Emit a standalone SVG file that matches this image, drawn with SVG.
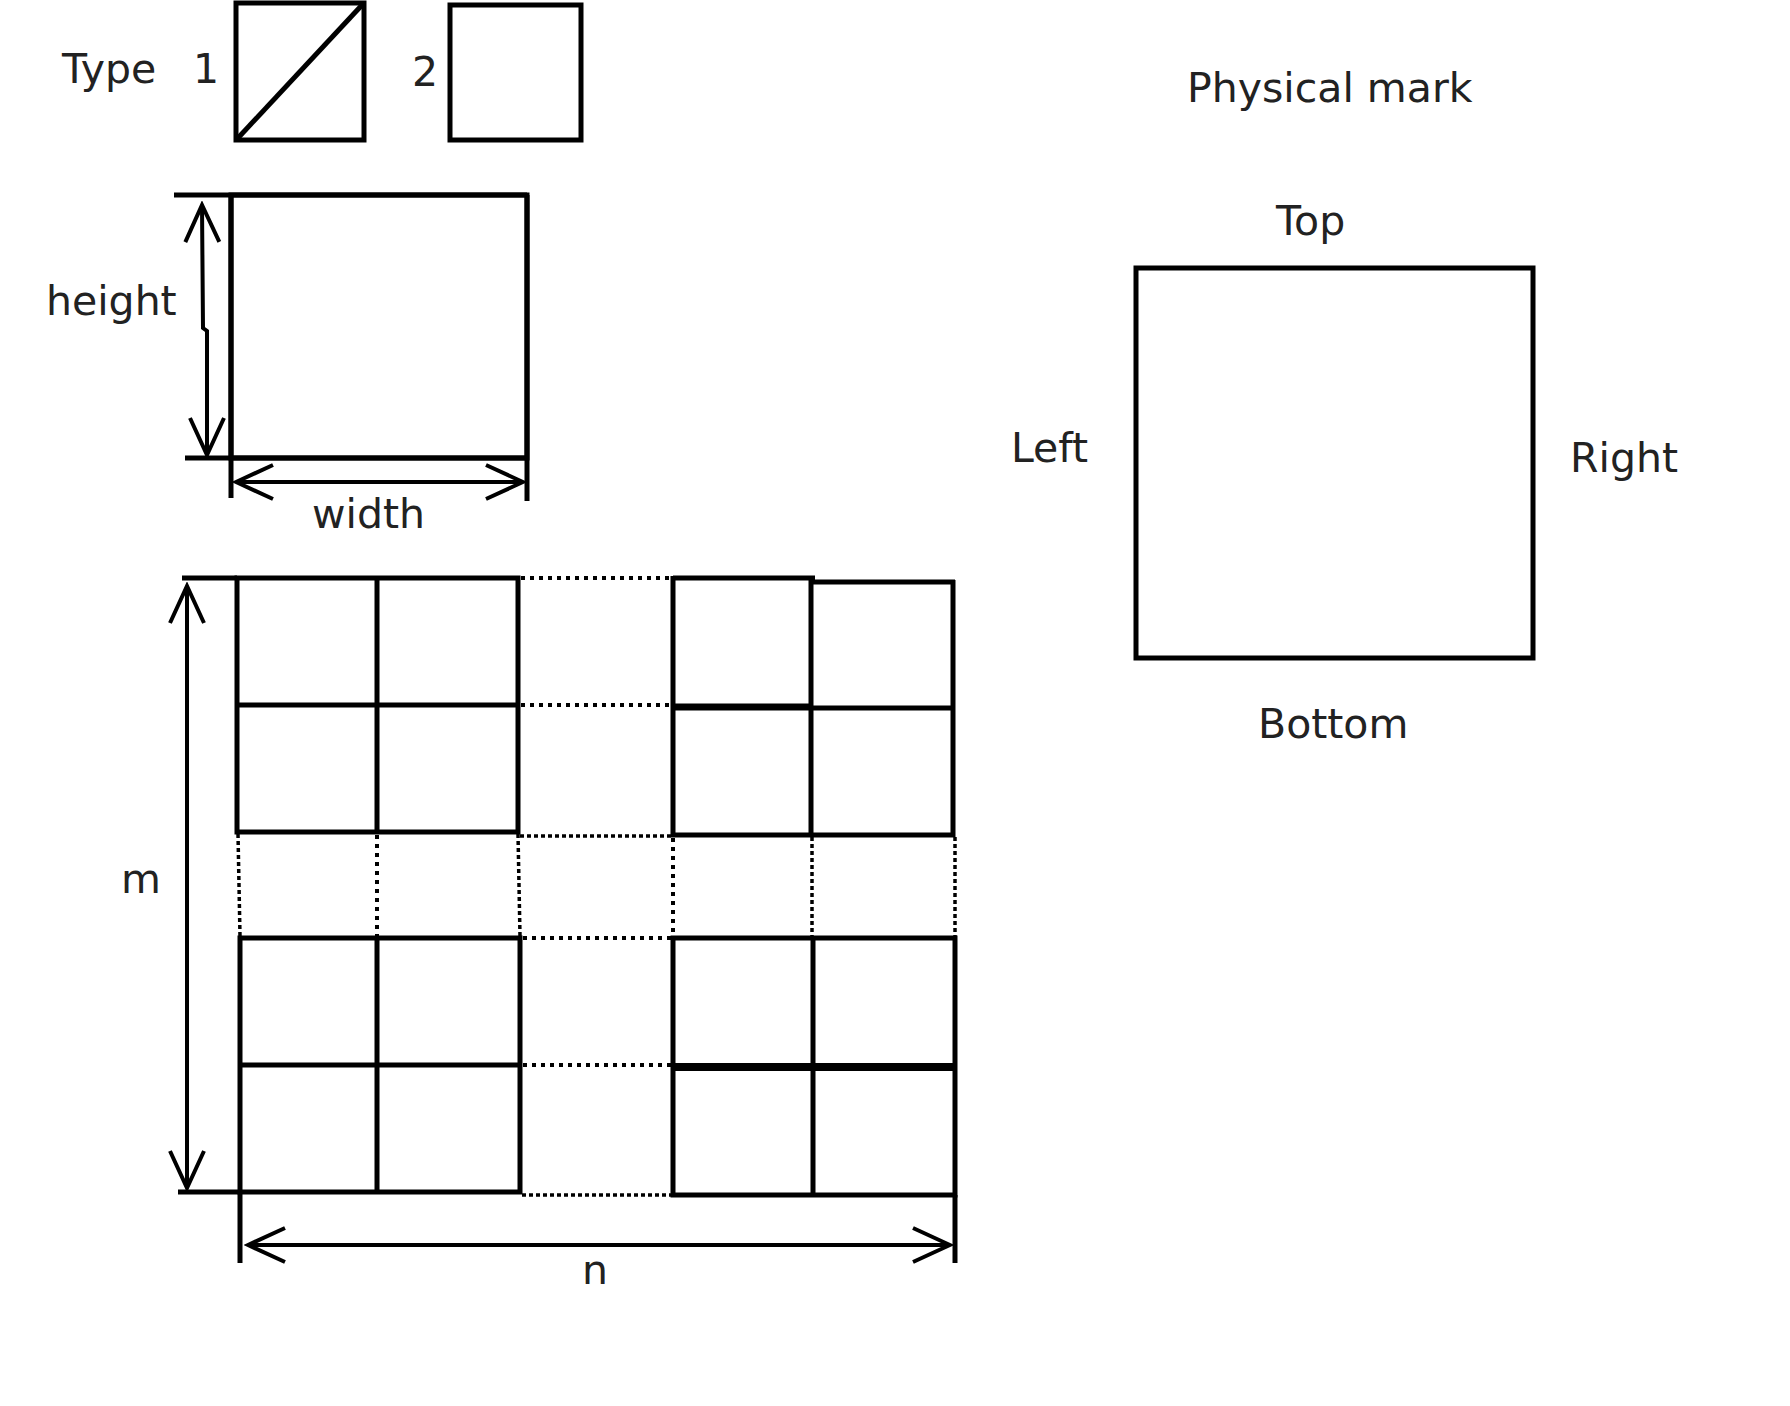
<svg xmlns="http://www.w3.org/2000/svg" width="1790" height="1406" viewBox="0 0 1790 1406">
<style>
.t{font-family:"DejaVu Sans","Liberation Sans",sans-serif;font-size:41px;fill:#222}
.s{fill:none;stroke:#000;stroke-width:5}
.dot{fill:none;stroke:#000;stroke-width:4;stroke-dasharray:4 5}
.dash{fill:none;stroke:#000;stroke-width:3.5;stroke-dasharray:4 3}
.arr{fill:none;stroke:#000;stroke-width:4;marker-start:url(#ah);marker-end:url(#ah)}
</style>
<defs>
<marker id="ah" markerUnits="userSpaceOnUse" viewBox="-42 -22 46 44" refX="0" refY="0" markerWidth="46" markerHeight="44" orient="auto-start-reverse">
<path d="M-37,-17 L0,0 L-37,17" fill="none" stroke="#000" stroke-width="4"/>
</marker>
</defs>
<rect width="1790" height="1406" fill="#fff"/>

<g id="type-legend">
<text class="t" x="62" y="83">Type</text>
<text class="t" x="193" y="83">1</text>
<text class="t" x="412" y="86">2</text>
</g>
<g id="type1">
<rect class="s" x="236" y="3" width="128" height="137"/>
<line class="s" x1="238" y1="138" x2="362" y2="5"/>
</g>
<g id="type2">
<rect class="s" x="450" y="5" width="131" height="135"/>
</g>

<g id="unit-cell">
<rect class="s" x="231" y="195" width="296" height="263"/>
<line class="s" x1="174" y1="195" x2="527" y2="195"/>
<line class="s" x1="185" y1="458" x2="527" y2="458"/>
<line class="s" x1="231" y1="195" x2="231" y2="498"/>
<line class="s" x1="527" y1="195" x2="527" y2="501"/>
<text class="t" x="46" y="315">height</text>
<text class="t" x="312" y="528">width</text>
</g>

<g id="grid-upper-left">
<rect class="s" x="237" y="578" width="281" height="254"/>
<line class="s" x1="182" y1="578" x2="237" y2="578"/>
<line class="s" x1="377" y1="578" x2="377" y2="832"/>
<line class="s" x1="237" y1="705" x2="518" y2="705"/>
</g>
<g id="grid-upper-right">
<line class="s" x1="673" y1="578" x2="815" y2="578"/>
<line class="s" x1="809" y1="582" x2="955" y2="582"/>
<line class="s" x1="673" y1="576" x2="673" y2="837"/>
<line class="s" x1="811" y1="576" x2="811" y2="837"/>
<line class="s" x1="953" y1="580" x2="953" y2="837"/>
<line class="s" x1="673" y1="707" x2="811" y2="707" style="stroke-width:7"/>
<line class="s" x1="811" y1="708" x2="953" y2="708"/>
<line class="s" x1="671" y1="835" x2="955" y2="835"/>
</g>
<g id="grid-lower-left">
<rect class="s" x="240" y="938" width="280" height="254"/>
<line class="s" x1="178" y1="1192" x2="240" y2="1192"/>
<line class="s" x1="240" y1="1192" x2="240" y2="1263"/>
<line class="s" x1="377" y1="938" x2="377" y2="1192"/>
<line class="s" x1="240" y1="1065" x2="520" y2="1065"/>
</g>
<g id="grid-lower-right">
<rect class="s" x="673" y="938" width="282" height="257"/>
<line class="s" x1="955" y1="1195" x2="955" y2="1263"/>
<line class="s" x1="813" y1="938" x2="813" y2="1195"/>
<line class="s" x1="673" y1="1067" x2="955" y2="1067" style="stroke-width:8"/>
</g>
<g id="grid-gaps">
<line class="dot" x1="521" y1="578" x2="671" y2="578"/>
<line class="dot" x1="521" y1="705" x2="671" y2="705"/>
<line class="dot" x1="523" y1="938" x2="671" y2="938"/>
<line class="dot" x1="523" y1="1065" x2="671" y2="1065"/>
<line class="dot" x1="377" y1="835" x2="377" y2="936"/>
<line class="dot" x1="673" y1="838" x2="673" y2="936"/>
<line class="dash" x1="520" y1="836" x2="671" y2="836"/>
<line class="dash" x1="522" y1="1195" x2="671" y2="1195"/>
<line class="dash" x1="238" y1="834" x2="240" y2="936"/>
<line class="dash" x1="518" y1="834" x2="520" y2="936"/>
<line class="dash" x1="812" y1="837" x2="812" y2="936"/>
<line class="dash" x1="955" y1="837" x2="955" y2="936"/>
</g>
<g id="grid-labels">
<text class="t" x="121" y="893">m</text>
<text class="t" x="582" y="1284">n</text>
</g>

<g id="physical-mark">
<text class="t" x="1187" y="102">Physical mark</text>
<text class="t" x="1276" y="235">Top</text>
<rect class="s" x="1136" y="268" width="397" height="390"/>
<text class="t" x="1011" y="462">Left</text>
<text class="t" x="1570" y="472">Right</text>
<text class="t" x="1258" y="738">Bottom</text>
</g>

<g id="connectors">
<path class="arr" d="M202,205 L203,328 L207,331 L207,455"/>
<line class="arr" x1="236" y1="482" x2="523" y2="482"/>
<line class="arr" x1="187" y1="586" x2="187" y2="1188"/>
<line class="arr" x1="248" y1="1245" x2="950" y2="1245"/>
</g>
</svg>
